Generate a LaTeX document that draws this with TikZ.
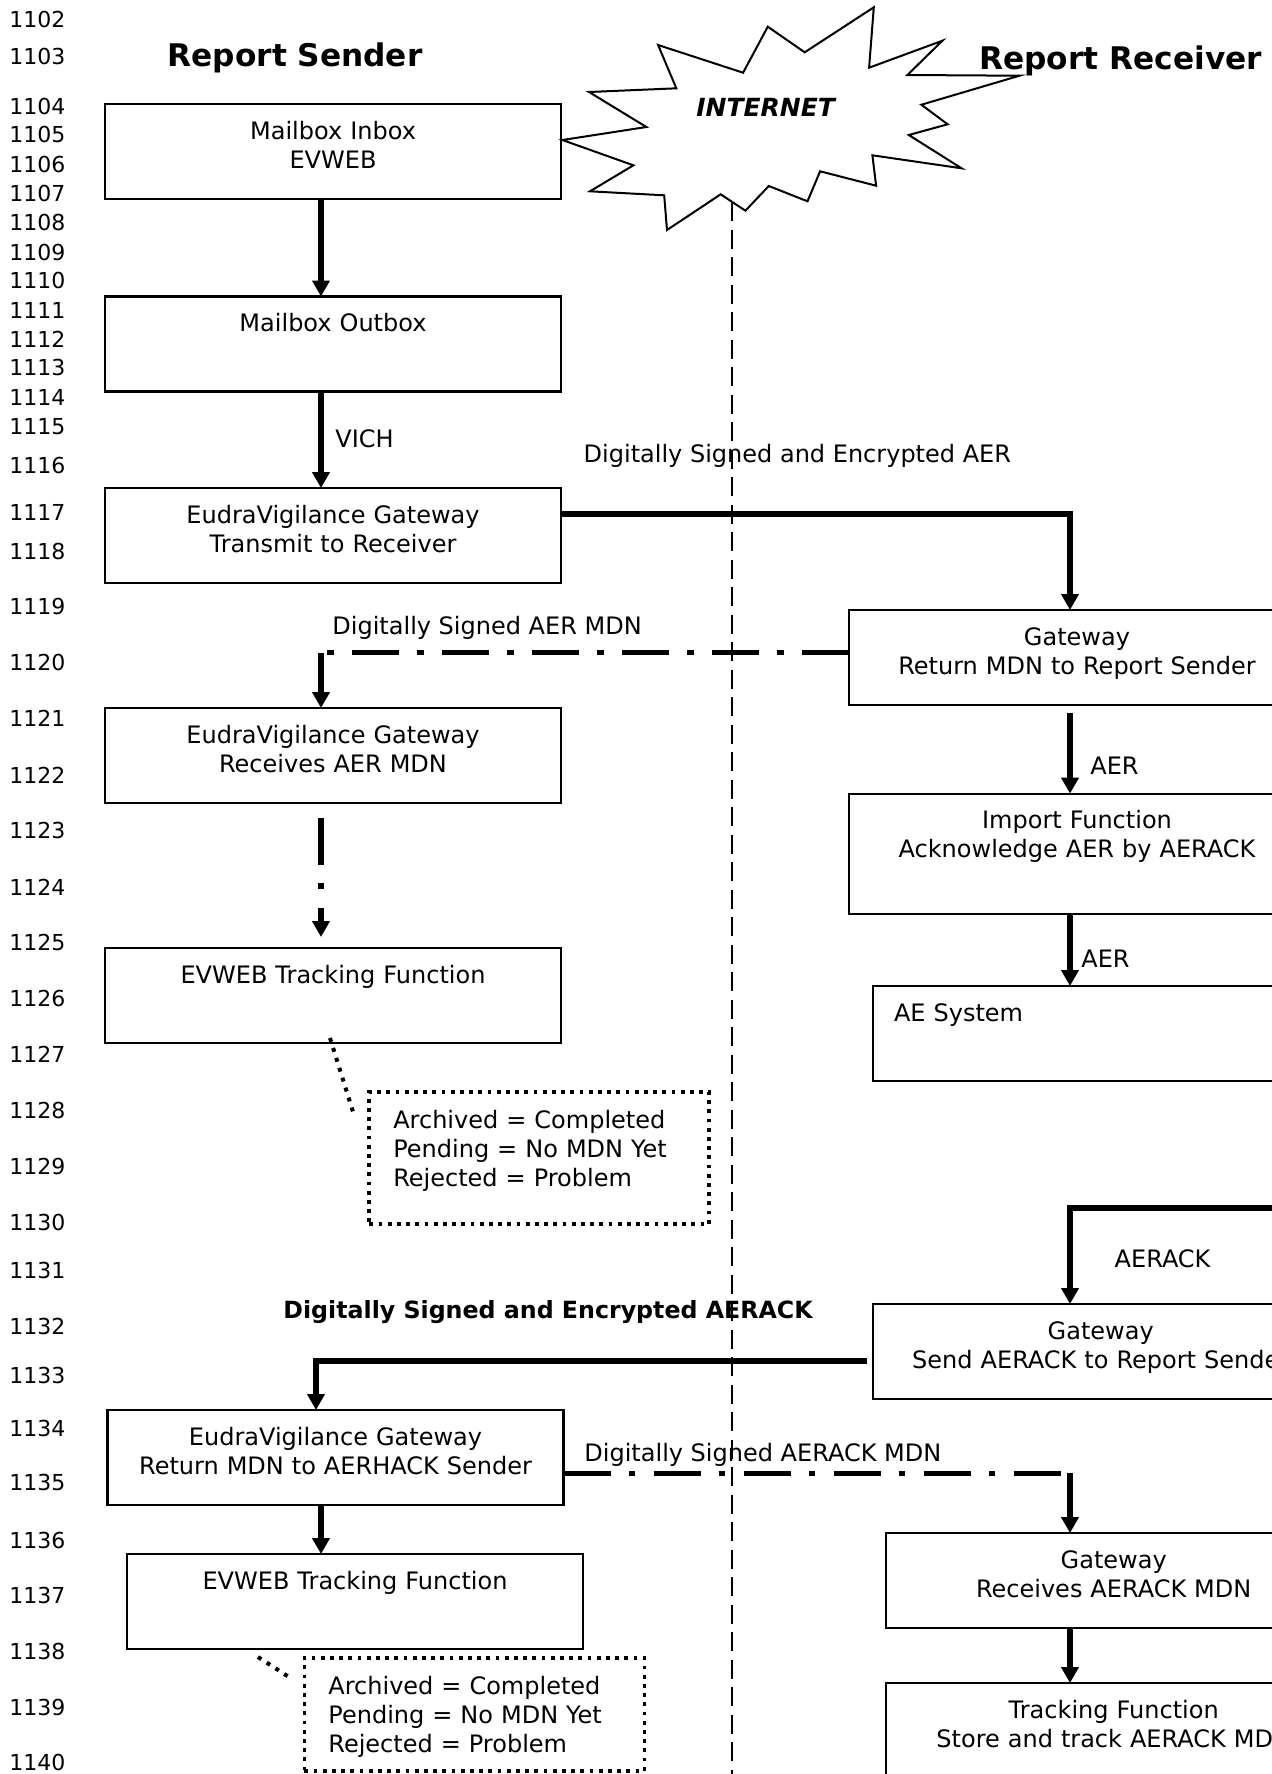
\documentclass[tikz,border=0pt]{standalone}
\usepackage{fontspec}
\setmainfont{DejaVu Sans}
\usetikzlibrary{arrows.meta,positioning}

\begin{document}
\begin{tikzpicture}[
  x=0.5pt, y=-0.5pt,
  font=\fontsize{12}{14.5}\selectfont,
  box/.style={draw, line width=1.1pt, anchor=north west, outer sep=0pt, inner xsep=0pt, inner ysep=0pt,
    text width=228pt, align=center, text height=17.65pt, text depth=29.85pt},
  tallbox/.style={box, text depth=42.55pt},
  leftbox/.style={box, align=left, text width=207pt, inner xsep=10.5pt},
  note/.style={draw, line width=1.9pt, dash pattern=on 1.9pt off 2.7pt, anchor=north west, outer sep=0pt,
    inner xsep=12pt, inner ysep=0pt, text width=146pt, align=left, text height=18.35pt},
  lbl/.style={inner sep=0pt, anchor=base west},
  title/.style={lbl, font=\fontsize{15.6}{18}\selectfont\bfseries},
  lineno/.style={inner sep=0pt, anchor=west, font=\fontsize{11}{13}\selectfont},
  flow/.style={line width=2.8pt, -{Triangle[width=8.5pt,length=8pt]}},
  mdn/.style={line width=2.7pt, dash pattern=on 23.5pt off 9.2pt on 3.2pt off 9.1pt},
  mdnflow/.style={mdn, -{Triangle[width=8.5pt,length=8pt]}},
  dotline/.style={line width=2pt, dash pattern=on 2pt off 3.2pt},
  divider/.style={line width=1.2pt, dash pattern=on 9.5pt off 4.25pt},
  net/.style={draw, line width=1pt, fill=white, line join=miter}
]
\useasboundingbox (0,0) rectangle (1272,1774);
\clip (0,0) rectangle (1272,1774);

% internet cloud
\draw[net] (562.4,140) -- (646.4,127) -- (589,92) -- (676.3,88.3) -- (658.1,45) -- (743.1,72.7)
  -- (767.8,26.7) -- (804.7,52.3) -- (873.8,7.3) -- (869.1,67.7) -- (942.4,40.7) -- (907.4,75)
  -- (1019.5,75.7) -- (921.4,104.7) -- (947.6,124.3) -- (908.8,135) -- (961.6,168.3) -- (872.4,155.3)
  -- (876.1,185.7) -- (820.1,171.3) -- (807.5,201.3) -- (768.8,186) -- (745.4,210.7) -- (720.7,194.3)
  -- (667,230) -- (664.2,195.3) -- (590,191.3) -- (633.4,165.3) -- cycle;
\node[inner sep=0pt, anchor=base, font=\fontsize{12.5}{15}\selectfont\bfseries\itshape] (internet) at (765.7,116.7) {INTERNET};

% line numbers
\foreach \n/\y in {1102/19.2, 1103/56.6, 1104/106.4, 1105/134.7, 1106/164.1, 1107/193.5, 1108/222.9,
  1109/252.4, 1110/280.7, 1111/310.1, 1112/339.5, 1113/367.8, 1114/397.2, 1115/426.6, 1116/465.1,
  1117/512.6, 1118/551.1, 1119/606.6, 1120/662.0, 1121/718.6, 1122/775.2, 1123/830.6, 1124/887.2,
  1125/942.7, 1126/998.2, 1127/1054.7, 1128/1110.2, 1129/1166.8, 1130/1222.2, 1131/1270.9,
  1132/1326.3, 1133/1375.0, 1134/1428.2, 1135/1482.5, 1136/1540.2, 1137/1595.7, 1138/1651.1,
  1139/1707.7, 1140/1762.1}
  \node[lineno] (ln\n) at (9,\y) {\n};

\node[title] (sender) at (167.3,66) {Report Sender};
\node[title] (receiver) at (979,69) {Report Receiver};

% sender side
\node[box] (mbin) at (105,104) {Mailbox Inbox\\EVWEB};
\node[box] (mbout) at (105,296.5) {Mailbox Outbox};
\node[box] (evgtx) at (105,488) {EudraVigilance Gateway\\Transmit to Receiver};
\node[box] (evgrx) at (105,708) {EudraVigilance Gateway\\Receives AER MDN};
\node[box] (evtrack1) at (105,948) {EVWEB Tracking Function};
\node[note, text depth=47.65pt] (note1) at (369.3,1092) {Archived = Completed\\Pending = No MDN Yet\\Rejected = Problem};
\node[box] (evgmdn) at (107.5,1410) {EudraVigilance Gateway\\Return MDN to AERHACK Sender};
\node[box] (evtrack2) at (127,1554) {EVWEB Tracking Function};
\node[note, text depth=38.15pt] (note2) at (304.4,1658) {Archived = Completed\\Pending = No MDN Yet\\Rejected = Problem};

% receiver side
\node[box] (gwmdn) at (849,610) {Gateway\\Return MDN to Report Sender};
\node[tallbox] (importfn) at (849,793.6) {Import Function\\Acknowledge AER by AERACK};
\node[leftbox] (aesys) at (873,986) {AE System};
\node[box] (gwsend) at (872.7,1304) {Gateway\\Send AERACK to Report Sender};
\node[box] (gwrx) at (885.7,1533) {Gateway\\Receives AERACK MDN};
\node[tallbox] (trackfn) at (885.7,1683) {Tracking Function\\Store and track AERACK MDN};

\coordinate (lspine) at (321,0);
\coordinate (rspine) at (1070,0);
\coordinate (mdnturn) at (321,652.7);
\coordinate (ackin) at (1290,1208);
\coordinate (ackturn) at (316,1361);
\coordinate (ackmdnturn) at (1070,1473.3);

\draw[flow] (lspine |- mbin.south) -- (lspine |- mbout.north);
\draw[flow] (lspine |- mbout.south) -- (lspine |- evgtx.north);
\draw[flow] ([yshift=10.75pt]evgtx.east) -| (rspine |- gwmdn.north);
\draw[mdn] (gwmdn.west |- mdnturn) -- (mdnturn);
\draw[flow] (mdnturn) -- (mdnturn |- evgrx.north);
\draw[mdnflow, shorten <=7.25pt, shorten >=5.5pt] (lspine |- evgrx.south) -- (lspine |- evtrack1.north);
\draw[dotline] ([xshift=-1.5pt,yshift=2.5pt]evtrack1.south) -- ([xshift=-7.65pt,yshift=-11.5pt]note1.north west);

\draw[flow, shorten <=4pt] (rspine |- gwmdn.south) -- (rspine |- importfn.north);
\draw[flow] (rspine |- importfn.south) -- (rspine |- aesys.north);
\draw[flow] (ackin) -| (rspine |- gwsend.north);
\draw[flow, shorten <=3pt] (gwsend.west |- ackturn) -| (ackturn |- evgmdn.north);
\draw[mdn] (evgmdn.east |- ackmdnturn) -- (ackmdnturn);
\draw[flow] (ackmdnturn) -- (ackmdnturn |- gwrx.north);
\draw[flow] (lspine |- evgmdn.south) -- (lspine |- evtrack2.north);
\draw[flow] (rspine |- gwrx.south) -- (rspine |- trackfn.north);
\draw[dotline] ([xshift=-48.5pt,yshift=-4pt]evtrack2.south) -- ([xshift=-7.7pt,yshift=-9.5pt]note2.north west);

% connector labels
\node[lbl] (vich) at (335,447) {VICH};
\node[lbl] (aerlbl) at (583.3,462) {Digitally Signed and Encrypted AER};
\node[lbl] (aermdnlbl) at (332,634) {Digitally Signed AER MDN};
\node[lbl] (aer1) at (1090,774.6) {AER};
\node[lbl] (aer2) at (1081,967.5) {AER};
\node[lbl] (aerack) at (1114.3,1267.9) {AERACK};
\node[lbl, font=\fontsize{11.85}{14.5}\selectfont\bfseries] (acklbl) at (283,1318) {Digitally Signed and Encrypted AERACK};
\node[lbl] (ackmdnlbl) at (584,1461.5) {Digitally Signed AERACK MDN};

% internet boundary
\coordinate (netfoot) at (732,202);
\coordinate (pagefoot) at (732,1774);
\draw[divider] (netfoot) -- (pagefoot);
\end{tikzpicture}
\end{document}
